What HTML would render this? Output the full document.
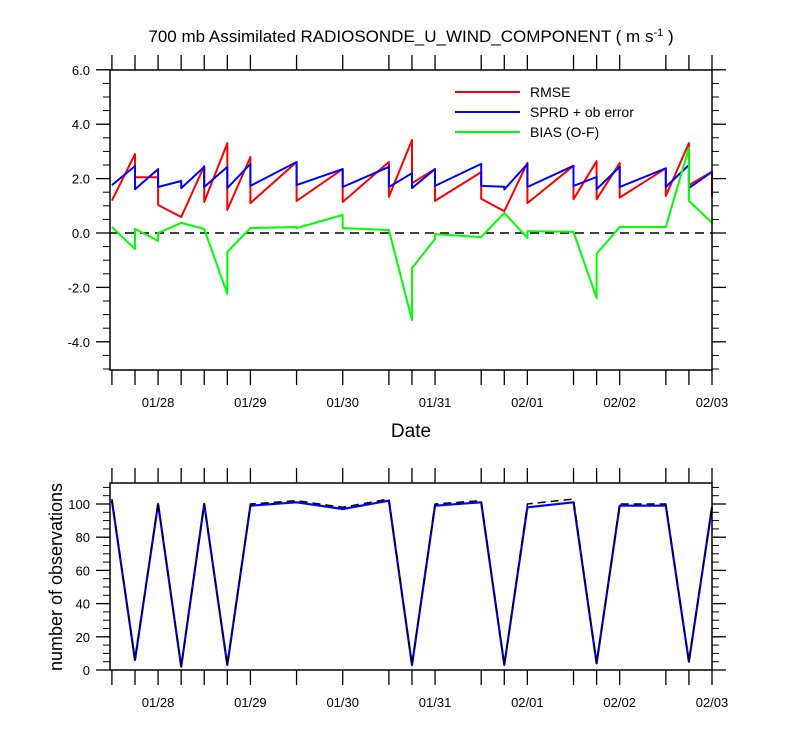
<!DOCTYPE html>
<html><head><meta charset="utf-8"><style>
body{margin:0;background:#fff;}
svg{display:block;font-family:"Liberation Sans",sans-serif;}
</style></head><body>
<svg id="chart" width="800" height="750" viewBox="0 0 800 750">
<text x="411" y="42" text-anchor="middle" font-size="17">700 mb Assimilated RADIOSONDE_U_WIND_COMPONENT ( m s<tspan dy="-6" font-size="11">-1</tspan><tspan dy="6"> )</tspan></text>
<g id="topPanel"></g>
<g id="botPanel"></g>
<text x="411" y="437" text-anchor="middle" font-size="19">Date</text>
<text transform="translate(62,577) rotate(-90)" text-anchor="middle" font-size="18">number of observations</text>
<g>
<line x1="455" y1="92" x2="520" y2="92" stroke="#f00" stroke-width="2"/><text x="530" y="97" font-size="14">RMSE</text>
<line x1="455" y1="112" x2="520" y2="112" stroke="#00f" stroke-width="2"/><text x="530" y="117" font-size="14">SPRD + ob error</text>
<line x1="455" y1="132" x2="520" y2="132" stroke="#0f0" stroke-width="2"/><text x="530" y="137" font-size="14">BIAS (O-F)</text>
</g>
</svg>
<script>
// times in hours since 01/27 12Z; each point may repeat a time (jump)
const rmseT=[0,6,6,12,12,18,24,24,30,30,36,36,48,48,60,60,72,72,78,78,84,84,96,96,102,108,108,120,120,126,126,132,132,144,144,150,150,156,156];
const rmseV=[1.19,2.90,2.05,2.05,1.03,0.59,2.46,1.14,3.30,0.85,2.79,1.10,2.61,1.18,2.35,1.14,2.61,1.33,3.42,1.83,2.35,1.18,2.24,1.26,0.80,2.58,1.10,2.47,1.24,2.64,1.24,2.57,1.30,2.38,1.36,3.30,1.76,2.25,1.33];
const sprdT=[0,6,6,12,12,18,18,24,24,30,30,36,36,48,48,60,60,72,72,78,78,84,84,96,96,102,102,108,108,120,120,126,126,132,132,144,144,150,150,156];
const sprdV=[1.76,2.46,1.61,2.35,1.69,1.91,1.65,2.43,1.69,2.43,1.65,2.54,1.73,2.61,1.76,2.35,1.69,2.43,1.69,2.20,1.65,2.35,1.73,2.54,1.73,1.70,1.60,2.54,1.69,2.47,1.73,2.06,1.61,2.43,1.69,2.38,1.69,2.50,1.65,2.25];
const biasT=[0,6,6,12,12,18,24,30,30,36,48,48,60,60,72,78,78,84,84,96,102,108,108,120,126,126,132,144,150,150,156];
const biasV=[0.22,-0.59,0.15,-0.29,0.0,0.37,0.15,-2.24,-0.70,0.18,0.22,0.18,0.66,0.18,0.11,-3.2,-1.29,-0.22,-0.04,-0.15,0.74,-0.18,0.07,0.04,-2.39,-0.77,0.22,0.22,3.13,1.18,0.37];
const obsT=[0,6,12,18,24,30,36,48,60,72,78,84,96,102,108,120,126,132,144,150,156];
const obsUsed=[102,6,100,2,100,3,99,101,97,102,3,99,101,3,98,101,4,99,99,5,98];
const obsTotal=[103,6,101,2,100,3,100,102,98,103,3,100,102,3,100,103,4,100,100,5,99];
const topYTicks=[-4,-2,0,2,4,6];
const topYLabels=["-4.0","-2.0","0.0","2.0","4.0","6.0"];
const botYTicks=[0,20,40,60,80,100];
const dateHours=[12,36,60,84,108,132,156];
const dateLabels=["01/28","01/29","01/30","01/31","02/01","02/02","02/03"];

const NS="http://www.w3.org/2000/svg";
const X0=110,X1=712,T0=-0.5,T1=156;
const xs=h=>X0+(h-T0)/(T1-T0)*(X1-X0);
const yTop=v=>233-v*27.2;
const yBot=v=>670-v*1.66;
function mk(p,tag,attrs){const e=document.createElementNS(NS,tag);for(const k in attrs)e.setAttribute(k,attrs[k]);p.appendChild(e);return e;}
function ln(p,x1,y1,x2,y2,w){return mk(p,'line',{x1,y1,x2,y2,stroke:'#000','stroke-width':w||1.3});}
function path(p,T,V,yf,color,w,dash,name){
  const d=T.map((t,i)=>(i?'L':'M')+xs(t).toFixed(1)+','+yf(V[i]).toFixed(1)).join('');
  const e=mk(p,'path',{d,fill:'none',stroke:color,'stroke-width':w,'stroke-linejoin':'round'});
  if(dash)e.setAttribute('stroke-dasharray',dash);
  
  
  return e;
}
function frame(g,top,bot,yf,ticks,labels,minorStep,vmin,vmax){
  obsT.forEach(t=>{ln(g,xs(t),top,xs(t),top-15);ln(g,xs(t),bot,xs(t),bot+15);});
  for(let v=vmin;v<=vmax+1e-9;v+=minorStep){const yy=yf(v);ln(g,X0,yy,X0-7,yy,1);ln(g,X1,yy,X1+7,yy,1);}
  ticks.forEach((v,i)=>{const yy=yf(v);ln(g,X0,yy,X0-14,yy);ln(g,X1,yy,X1+14,yy);
    const t=mk(g,'text',{x:X0-20,y:yy+5,'text-anchor':'end','font-size':13});t.textContent=labels[i];
    
    });
  dateHours.forEach((h,i)=>{const t=mk(g,'text',{x:xs(h),y:bot+37,'text-anchor':'middle','font-size':13});t.textContent=dateLabels[i];
    
    });
}
const topG=document.getElementById('topPanel');
frame(topG,70,370,yTop,topYTicks,topYLabels,0.5,-5,6);
const zl=mk(topG,'line',{x1:X0,y1:yTop(0),x2:X1,y2:yTop(0),stroke:'#000','stroke-width':1.5,'stroke-dasharray':'9,6'});


path(topG,rmseT,rmseV,yTop,'#f00',2,null,'rmse-line');
path(topG,sprdT,sprdV,yTop,'#00f',2,null,'sprd-line');
path(topG,biasT,biasV,yTop,'#0f0',2,null,'bias-line');
mk(topG,'rect',{x:X0,y:70,width:X1-X0,height:300,fill:'none',stroke:'#000','stroke-width':1.5});

const botG=document.getElementById('botPanel');
frame(botG,483,670,yBot,botYTicks,botYTicks.map(String),5,0,110);
path(botG,obsT,obsUsed,yBot,'#00f',2.2,null,'obs-used-line');
path(botG,obsT,obsTotal,yBot,'#000',1.5,'8,5','obs-total-line');
mk(botG,'rect',{x:X0,y:483,width:X1-X0,height:187,fill:'none',stroke:'#000','stroke-width':1.5});
</script>
</body></html>
